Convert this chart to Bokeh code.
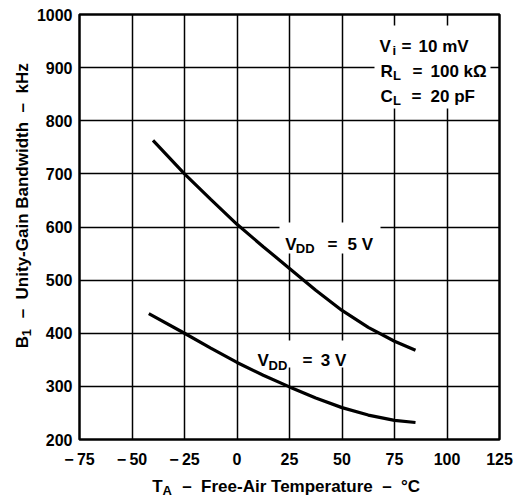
import math
from bokeh.plotting import figure
from bokeh.models import Label, BoxAnnotation, FixedTicker, Range1d
from bokeh.layouts import row, column
from bokeh.core.properties import value
from bokeh.embed import file_html
from bokeh.resources import INLINE

# ---- data ----
temp_5v = [-40, -25, -12.5, 0, 12.5, 25, 37.5, 50, 62.5, 75, 85]
bw_5v = [763, 700, 652, 605, 563, 522, 481, 443, 411, 385, 368]
temp_3v = [-42, -25, -12.5, 0, 12.5, 25, 37.5, 50, 62.5, 75, 85]
bw_3v = [437, 400, 372, 345, 321, 299, 278, 260, 246, 236, 232]

x_ticks = [-75, -50, -25, 0, 25, 50, 75, 100, 125]
x_tick_labels = ["\u2212\u200975", "\u2212\u200950", "\u2212\u200925", "0", "25", "50", "75", "100", "125"]
y_ticks = [200, 300, 400, 500, 600, 700, 800, 900, 1000]
y_tick_labels = ["200", "300", "400", "500", "600", "700", "800", "900", "1000"]

FONT = "Liberation Sans"
NB = "\u00a0"

# layout geometry (pixels)
STRIP_W = 33                      # left strip holding the y title
ML, MR, MT, MB = 44, 14, 14, 32   # main figure borders
FW, FH = 420, 425                 # plot frame size
MAIN_W = ML + FW + MR
MAIN_H = MT + FH + MB
TOTAL_W = STRIP_W + MAIN_W
XSTRIP_H = 497 - MAIN_H

p = figure(frame_width=FW, frame_height=FH, x_range=Range1d(-75, 125), y_range=Range1d(200, 1000),
           output_backend="svg", toolbar_location=None,
           min_border_left=ML, min_border_right=MR, min_border_top=MT, min_border_bottom=MB)
p.background_fill_color = "white"
p.border_fill_color = "white"
p.outline_line_color = "black"
p.outline_line_width = 2.5

for ax, ticks, labels in ((p.xaxis[0], x_ticks, x_tick_labels), (p.yaxis[0], y_ticks, y_tick_labels)):
    ax.ticker = FixedTicker(ticks=ticks)
    ax.major_label_overrides = {t: l for t, l in zip(ticks, labels)}
    ax.axis_line_color = None
    ax.major_tick_line_color = None
    ax.minor_tick_line_color = None
    ax.major_tick_in = 0
    ax.major_tick_out = 0
    ax.major_label_text_font = FONT
    ax.major_label_text_font_style = "bold"
    ax.major_label_text_font_size = "16px"
    ax.major_label_text_color = "black"
p.xaxis.major_label_standoff = 11
p.yaxis.major_label_standoff = 7

p.xgrid.ticker = FixedTicker(ticks=x_ticks)
p.ygrid.ticker = FixedTicker(ticks=y_ticks)
for g in (p.xgrid[0], p.ygrid[0]):
    g.grid_line_color = "black"
    g.grid_line_width = 1.5
    g.grid_line_alpha = 1.0

# reference-pixel -> data helpers for text placement (frame spans x 77..497, y 14..439)
def dx(px):
    return -75 + (px - 77) / 2.1

def dy(py):
    return 1000 - (py - 14) / 0.53125

# white backgrounds behind in-plot texts (cover grid lines)
for (x0, x1, y0, y1) in ((372, 488, 25, 108), (277, 378, 222, 253), (245, 350, 340, 367)):
    p.add_layout(BoxAnnotation(left=dx(x0), right=dx(x1), top=dy(y0), bottom=dy(y1),
                               fill_color="white", fill_alpha=1.0, line_color=None,
                               level="underlay"))

p.line(temp_5v, bw_5v, line_color="black", line_width=3.2)
p.line(temp_3v, bw_3v, line_color="black", line_width=3.2)

def lab(text, px, py, size=17):
    p.add_layout(Label(x=dx(px), y=dy(py), text=text,
                       text_font=FONT, text_font_style="bold", text_font_size=f"{size}px",
                       text_color="black", text_align="left", text_baseline="alphabetic"))

# conditions block
lab("V", 377, 45.5); lab("i", 390, 49.5, 13); lab("=", 399, 45.5); lab("10 mV", 416, 45.5)
lab("R", 378, 70.5); lab("L", 390.5, 74.5, 13); lab("=", 410, 70.5); lab("100 k\u03a9", 428, 70.5)
lab("C", 378, 96); lab("L", 390.5, 100, 13); lab("=", 409, 96); lab("20 pF", 428, 96)

# curve labels
lab("V", 282.7, 244); lab("DD", 293.3, 248.3, 13); lab("=", 325, 244); lab("5 V", 345, 244)
lab("V", 255, 360); lab("DD", 266, 365, 13); lab("=", 300, 360); lab("3 V", 318.3, 360)

# ---- title strips (pixel-coordinate figures) ----
def strip(w, h):
    s = figure(width=w, height=h, x_range=Range1d(0, w), y_range=Range1d(0, h),
               output_backend="svg", toolbar_location=None,
               x_axis_location=None, y_axis_location=None,
               min_border_left=0, min_border_right=0, min_border_top=0, min_border_bottom=0)
    s.outline_line_color = None
    s.background_fill_color = "white"
    s.border_fill_color = "white"
    s.grid.visible = False
    return s

def stext(s, h, x, y, text, size=17, angle=0.0):
    s.text(x=[x], y=[h - y], text=[text], angle=angle,
           text_font=value(FONT), text_font_style="bold", text_font_size=value(f"{size}px"),
           text_color="black", text_align="left", text_baseline="alphabetic")

# x title strip spans the full width: local x = window x, local y = window y - MAIN_H
xs = strip(TOTAL_W, XSTRIP_H)
oy = MAIN_H
stext(xs, XSTRIP_H, 151.7, 486 - oy, "T")
stext(xs, XSTRIP_H, 162, 490 - oy, "A", 13)
stext(xs, XSTRIP_H, 181.7, 486 - oy,
      "\u2013" + NB * 2 + "Free-Air Temperature" + NB * 2 + "\u2013" + NB * 2 + "\u00b0C")

# y title strip (rotated text)
ys = strip(STRIP_W, MAIN_H)
half = math.pi / 2
stext(ys, MAIN_H, 21.5, 370, "B", angle=half)
stext(ys, MAIN_H, 25.5, 356.5, "1", 13, angle=half)
stext(ys, MAIN_H, 21.5, 336.7,
      "\u2013" + NB * 2 + "Unity-Gain Bandwidth" + NB * 2 + "\u2013" + NB * 2 + "kHz", angle=half)

layout = column(row(ys, p), xs)
open("out.html", "w").write(file_html(layout, INLINE))
